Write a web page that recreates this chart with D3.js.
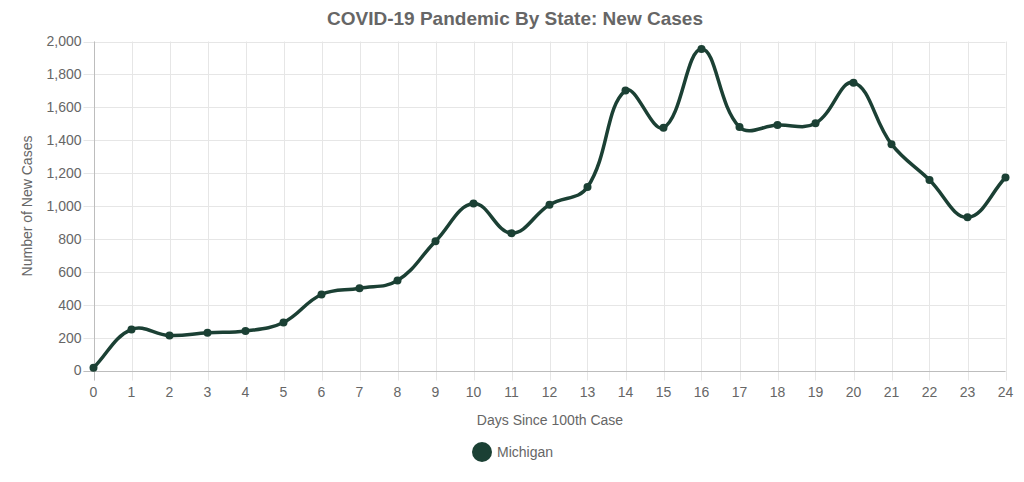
<!DOCTYPE html>
<html>
<head>
<meta charset="utf-8">
<script src="https://cdn.jsdelivr.net/npm/d3@7"></script>
<style>
  html, body { margin: 0; padding: 0; background: #fff; }
  svg { display: block; }
  text { font-family: "Liberation Sans", Arial, Helvetica, sans-serif; fill: #666; }
</style>
</head>
<body>
<svg id="chart" width="1024" height="482"></svg>
<script>
// ---- data ----
const days = [0,1,2,3,4,5,6,7,8,9,10,11,12,13,14,15,16,17,18,19,20,21,22,23,24];
const michigan = [16,250,213,230,240,292,462,500,547,786,1015,835,1008,1115,1702,1476,1954,1480,1492,1503,1750,1376,1158,931,1173];
const yTicks = [0,200,400,600,800,1000,1200,1400,1600,1800,2000];
const seriesName = "Michigan";
const titleText = "COVID-19 Pandemic By State: New Cases";
const xTitle = "Days Since 100th Case";
const yTitle = "Number of New Cases";

// ---- layout ----
const svg = d3.select("#chart");
const plotL = 93.5, plotR = 1005.5, plotT = 41.5, plotB = 370.5;
const lineColor = "#1b4034";

const x = d3.scaleLinear().domain([0, 24]).range([plotL, plotR]);
const y = d3.scaleLinear().domain([0, 2000]).range([plotB, plotT]);

// gridlines
const grid = svg.append("g");
grid.selectAll("line.h").data(yTicks).join("line")
  .attr("x1", plotL - 10).attr("x2", plotR)
  .attr("y1", d => Math.round(y(d)) + 0.5).attr("y2", d => Math.round(y(d)) + 0.5)
  .attr("stroke", "#e6e6e6").attr("stroke-width", 1);
grid.selectAll("line.v").data(days).join("line")
  .attr("y1", plotT).attr("y2", plotB + 10)
  .attr("x1", d => Math.round(x(d)) + 0.5).attr("x2", d => Math.round(x(d)) + 0.5)
  .attr("stroke", "#e6e6e6").attr("stroke-width", 1);
// zero lines on top
grid.append("line").attr("x1", plotL - 10).attr("x2", plotR)
  .attr("y1", Math.round(y(0)) + 0.5).attr("y2", Math.round(y(0)) + 0.5)
  .attr("stroke", "#bdbdbd");
grid.append("line").attr("y1", plotT).attr("y2", plotB + 10)
  .attr("x1", Math.round(x(0)) + 0.5).attr("x2", Math.round(x(0)) + 0.5)
  .attr("stroke", "#bdbdbd");

// tick labels
svg.append("g").selectAll("text").data(yTicks).join("text")
  .attr("x", plotL - 12).attr("y", d => y(d)).attr("dy", "0.35em")
  .attr("text-anchor", "end").attr("font-size", 14)
  .text(d => d3.format(",")(d));
svg.append("g").selectAll("text").data(days).join("text")
  .attr("x", d => x(d)).attr("y", 392).attr("dy", "0.35em")
  .attr("text-anchor", "middle").attr("font-size", 14)
  .text(d => d);

// axis titles
svg.append("text").attr("x", 550).attr("y", 420).attr("dy", "0.35em")
  .attr("text-anchor", "middle").attr("font-size", 14).text(xTitle);
svg.append("text").attr("transform", `translate(27,${(plotT + plotB) / 2}) rotate(-90)`)
  .attr("dy", "0.35em").attr("text-anchor", "middle").attr("font-size", 14).text(yTitle);

// title
svg.append("text").attr("x", 515).attr("y", 18).attr("dy", "0.35em")
  .attr("text-anchor", "middle").attr("font-size", 19).attr("font-weight", "bold")
  .text(titleText);

// Chart.js-like spline (tension 0.4)
const pts = days.map((d, i) => [x(d), y(michigan[i])]);
function splinePath(p, t) {
  const n = p.length, cps = [];
  for (let i = 0; i < n; i++) {
    const prev = p[Math.max(0, i - 1)], cur = p[i], next = p[Math.min(n - 1, i + 1)];
    const d01 = Math.hypot(cur[0] - prev[0], cur[1] - prev[1]);
    const d12 = Math.hypot(next[0] - cur[0], next[1] - cur[1]);
    let s01 = d01 / (d01 + d12), s12 = d12 / (d01 + d12);
    if (isNaN(s01)) s01 = 0; if (isNaN(s12)) s12 = 0;
    const fa = t * s01, fb = t * s12;
    cps.push({
      prev: [cur[0] - fa * (next[0] - prev[0]), cur[1] - fa * (next[1] - prev[1])],
      next: [cur[0] + fb * (next[0] - prev[0]), cur[1] + fb * (next[1] - prev[1])]
    });
  }
  const path = d3.path();
  path.moveTo(p[0][0], p[0][1]);
  for (let i = 1; i < n; i++) {
    const a = cps[i - 1].next, b = cps[i].prev;
    path.bezierCurveTo(a[0], a[1], b[0], b[1], p[i][0], p[i][1]);
  }
  return path.toString();
}
svg.append("path").attr("d", splinePath(pts, 0.4))
  .attr("fill", "none").attr("stroke", lineColor).attr("stroke-width", 3.5)
  .attr("stroke-linejoin", "round");

svg.append("g").selectAll("circle").data(days).join("circle")
  .attr("cx", d => x(d)).attr("cy", (d, i) => y(michigan[i])).attr("r", 4)
  .attr("fill", lineColor);

// legend
const lg = svg.append("g");
lg.append("circle").attr("cx", 482).attr("cy", 452).attr("r", 10).attr("fill", lineColor);
lg.append("text").attr("x", 497).attr("y", 452).attr("dy", "0.35em").attr("font-size", 14).text(seriesName);
</script>
</body>
</html>
